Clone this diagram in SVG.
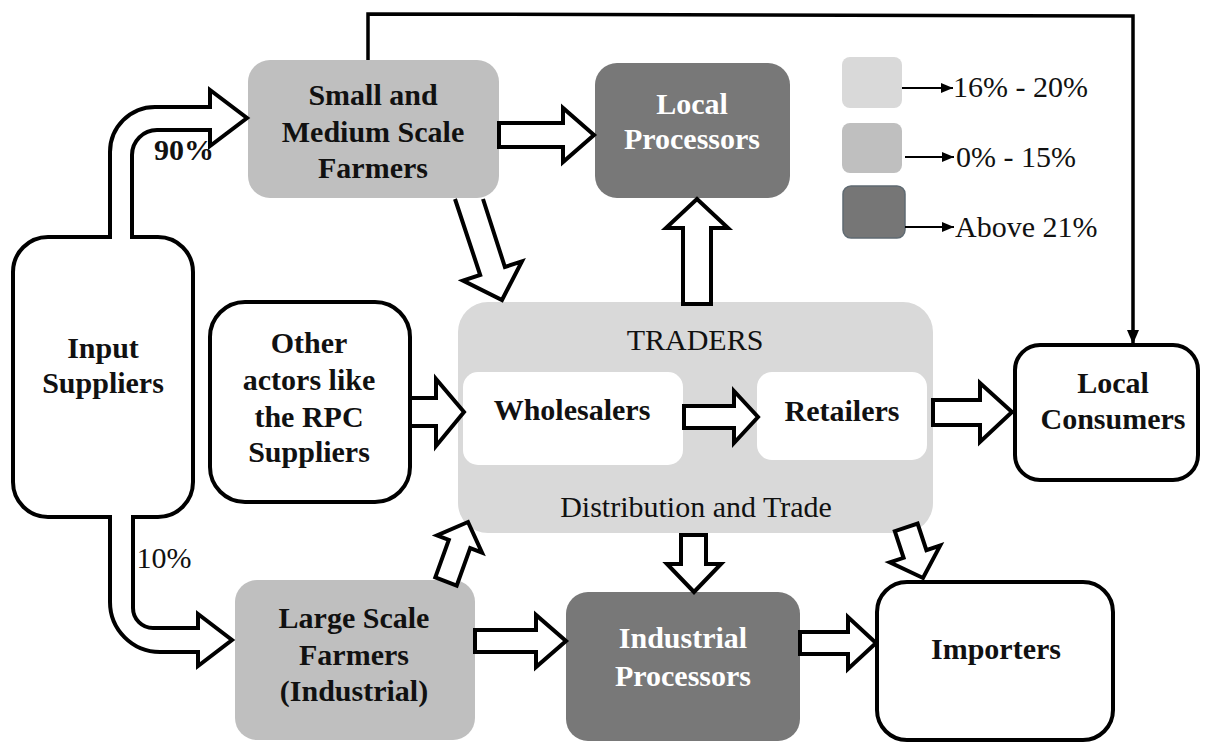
<svg xmlns="http://www.w3.org/2000/svg" width="1209" height="743" viewBox="0 0 1209 743">
<defs>
<style>
text{font-family:'Liberation Serif','Times New Roman','DejaVu Serif',serif;font-size:30px;fill:#111}
.t{text-anchor:middle}
.b{font-weight:bold}
.w{fill:#fff}
.ob{fill:#fff;stroke:#000;stroke-width:4}
.g1{fill:#d9d9d9}
.g2{fill:#bfbfbf}
.g3{fill:#787878}
.blk{fill:#fff;stroke:#000;stroke-width:4;stroke-linejoin:miter}
.ln{fill:none;stroke:#000;stroke-width:3.5}
.lg{fill:none;stroke:#000;stroke-width:2}
</style>
<marker id="ah" viewBox="0 0 12 10" refX="12" refY="5" markerWidth="12" markerHeight="10" markerUnits="userSpaceOnUse" orient="auto">
<path d="M0,0 L12,5 L0,10 Z" fill="#000"/>
</marker>
<marker id="ah2" viewBox="0 0 14 12" refX="14" refY="6" markerWidth="14" markerHeight="12" markerUnits="userSpaceOnUse" orient="auto">
<path d="M0,0 L14,6 L0,12 Z" fill="#000"/>
</marker>
</defs>
<rect width="1209" height="743" fill="#fff"/>

<g id="input-suppliers">
<rect class="ob" x="13" y="237" width="180" height="280" rx="35"/>
<text class="t b" x="103" y="358">Input</text>
<text class="t b" x="103" y="393">Suppliers</text>
</g>

<g id="small-medium-farmers">
<rect class="g2" x="248" y="60" width="251" height="138" rx="22"/>
<text class="t b" x="373" y="105">Small and</text>
<text class="t b" x="373" y="142">Medium Scale</text>
<text class="t b" x="373" y="178">Farmers</text>
</g>

<g id="local-processors">
<rect class="g3" x="595" y="63" width="195" height="135" rx="22"/>
<text class="t b w" x="692" y="114">Local</text>
<text class="t b w" x="692" y="149">Processors</text>
</g>

<g id="legend">
<rect class="g1" x="842" y="57" width="60" height="51" rx="8"/>
<rect class="g2" x="842" y="123" width="60" height="50" rx="8"/>
<rect x="843" y="186" width="62" height="52" rx="8" fill="#767676" stroke="#5f6a72" stroke-width="1.5"/>
<line class="lg" x1="902" y1="88" x2="953" y2="88" marker-end="url(#ah)"/>
<line class="lg" x1="905" y1="157" x2="954" y2="157" marker-end="url(#ah)"/>
<line class="lg" x1="905" y1="227" x2="954" y2="227" marker-end="url(#ah)"/>
<text x="953" y="97">16% - 20%</text>
<text x="956" y="167">0% - 15%</text>
<text x="955" y="237">Above 21%</text>
</g>

<g id="other-actors">
<rect class="ob" x="210" y="302" width="200" height="200" rx="35"/>
<text class="t b" x="309" y="353">Other</text>
<text class="t b" x="309" y="390">actors like</text>
<text class="t b" x="309" y="427">the RPC</text>
<text class="t b" x="309" y="462">Suppliers</text>
</g>

<g id="traders">
<rect class="g1" x="458" y="302" width="475" height="231" rx="30"/>
<text class="t" x="695" y="350">TRADERS</text>
<text class="t" x="696" y="517">Distribution and Trade</text>
</g>

<g id="wholesalers">
<rect fill="#fff" x="463" y="372" width="220" height="93" rx="15"/>
<text class="t b" x="572" y="420">Wholesalers</text>
</g>

<g id="retailers">
<rect fill="#fff" x="757" y="372" width="170" height="88" rx="15"/>
<text class="t b" x="842" y="421">Retailers</text>
</g>

<g id="local-consumers">
<rect class="ob" x="1015" y="345" width="183" height="135" rx="25"/>
<text class="t b" x="1113" y="393">Local</text>
<text class="t b" x="1113" y="429">Consumers</text>
</g>

<g id="large-scale-farmers">
<rect class="g2" x="235" y="580" width="240" height="160" rx="22"/>
<text class="t b" x="354" y="628">Large Scale</text>
<text class="t b" x="354" y="665">Farmers</text>
<text class="t b" x="354" y="701">(Industrial)</text>
</g>

<g id="industrial-processors">
<rect class="g3" x="566" y="592" width="234" height="149" rx="22"/>
<text class="t b w" x="683" y="648">Industrial</text>
<text class="t b w" x="683" y="686">Processors</text>
</g>

<g id="importers">
<rect class="ob" x="877" y="582" width="236" height="158" rx="30"/>
<text class="t b" x="996" y="659">Importers</text>
</g>

<g id="connectors">
<path class="blk" d="M110,239 L110,152 A45,45 0 0 1 155,107 L210,107 L210,90 L247,118 L210,146 L210,130 L157,130 A25,25 0 0 0 132,155 L132,239"/>
<text class="t b" x="184" y="160">90%</text>
<path class="blk" d="M110,515 L110,602 A50,50 0 0 0 160,652 L198,652 L198,666 L232,640 L198,614 L198,628 L153,628 A20,20 0 0 1 133,608 L133,515"/>
<text class="t" x="164" y="568">10%</text>
<path class="blk" d="M499,123 L563,123 L563,108 L594,135 L563,162 L563,147 L499,147 Z"/>
<path class="blk" d="M455,199 L480.2,275 L463,280.6 L502,300 L521.9,261.4 L504.9,267 L483,199"/>
<path class="blk" d="M683,304 L683,228 L666,228 L697,199 L728,228 L711,228 L711,304 Z"/>
<path class="blk" d="M410,398 L436,398 L436,379 L464,412 L436,446 L436,426 L410,426 Z"/>
<path class="blk" d="M684,406 L734,406 L734,391 L758,417 L734,443 L734,428 L684,428 Z"/>
<path class="blk" d="M933,400 L980,400 L980,383 L1012,412 L980,442 L980,425 L933,425 Z"/>
<path class="blk" d="M435.3,577.4 L448.8,539.9 L437,535.3 L468,522 L482,552.7 L470.2,548.1 L456.7,585.6 Z"/>
<path class="blk" d="M475,630 L536,630 L536,615 L566,641 L536,667 L536,652 L475,652 Z"/>
<path class="blk" d="M681,535 L681,564 L667,564 L694,592 L721,564 L706,564 L706,535 Z"/>
<path class="blk" d="M894.8,531.2 L903.6,557.8 L889.8,562.4 L923,578 L940.2,545.6 L926.4,550.2 L917.6,523.6 Z"/>
<path class="blk" d="M800,632 L848,632 L848,617 L876,643 L848,669 L848,654 L800,654 Z"/>
<path class="ln" d="M368,60 L368,14 L1133,16 L1133,344" marker-end="url(#ah2)"/>
</g>
</svg>
